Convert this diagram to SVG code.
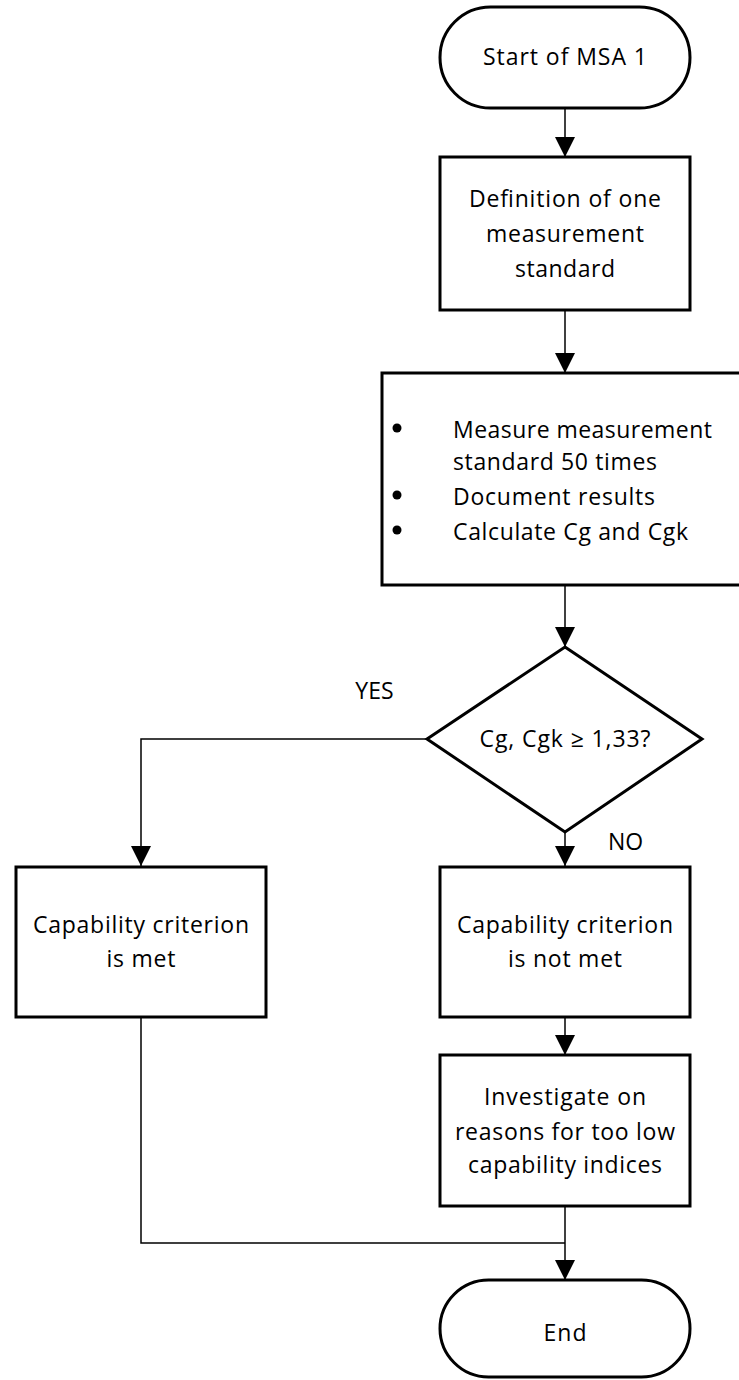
<svg xmlns="http://www.w3.org/2000/svg" width="739" height="1380" viewBox="0 0 739 1380">
<style>
  .shape { fill: #ffffff; stroke: #000000; stroke-width: 3; }
  .conn { fill: none; stroke: #000000; stroke-width: 1.5; }
  .t { font-family: "Open Sans", Lato, "Liberation Sans", sans-serif; font-size: 23px; fill: #000000; }
  .c { text-anchor: middle; }
</style>
<defs>
  <marker id="arrow" markerUnits="userSpaceOnUse" markerWidth="20" markerHeight="20" refX="20" refY="10" orient="auto">
    <path d="M0,0 L20,10 L0,20 Z" fill="#000000"/>
  </marker>
</defs>
<rect width="739" height="1380" fill="#ffffff"/>
<g id="connectors">
  <line class="conn" x1="565" y1="108" x2="565" y2="157" marker-end="url(#arrow)"/>
  <line class="conn" x1="565" y1="310" x2="565" y2="373" marker-end="url(#arrow)"/>
  <line class="conn" x1="565" y1="585" x2="565" y2="647" marker-end="url(#arrow)"/>
  <polyline class="conn" points="427,739 141,739 141,866" marker-end="url(#arrow)"/>
  <line class="conn" x1="565" y1="832" x2="565" y2="866" marker-end="url(#arrow)"/>
  <line class="conn" x1="565" y1="1017" x2="565" y2="1055" marker-end="url(#arrow)"/>
  <line class="conn" x1="565" y1="1206" x2="565" y2="1280" marker-end="url(#arrow)"/>
  <polyline class="conn" points="141,1017 141,1243 565,1243"/>
  <text class="t c" x="374.5" y="699">YES</text>
  <text class="t" x="608" y="850">NO</text>
</g>
<g id="start">
  <rect class="shape" x="440" y="7" width="250" height="101" rx="50.5" ry="50.5"/>
  <text class="t c" x="565" y="65" textLength="164" lengthAdjust="spacing">Start of MSA 1</text>
</g>
<g id="define">
  <rect class="shape" x="440" y="157" width="250" height="153"/>
  <text class="t c" x="565" y="207" textLength="192" lengthAdjust="spacing">Definition of one</text>
  <text class="t c" x="565" y="242" textLength="158" lengthAdjust="spacing">measurement</text>
  <text class="t c" x="565" y="277" textLength="100" lengthAdjust="spacing">standard</text>
</g>
<g id="measure">
  <rect class="shape" x="382" y="373" width="370" height="212"/>
  <circle cx="397" cy="428" r="4.5"/>
  <circle cx="397" cy="495" r="4.5"/>
  <circle cx="397" cy="530" r="4.5"/>
  <text class="t" x="453" y="438" textLength="259" lengthAdjust="spacing">Measure measurement</text>
  <text class="t" x="453" y="470" textLength="204" lengthAdjust="spacing">standard 50 times</text>
  <text class="t" x="453" y="505" textLength="202" lengthAdjust="spacing">Document results</text>
  <text class="t" x="453" y="540" textLength="235" lengthAdjust="spacing">Calculate Cg and Cgk</text>
</g>
<g id="decision">
  <polygon class="shape" points="565,647 702,739 565,832 427,739"/>
  <text class="t c" x="565" y="747" textLength="171" lengthAdjust="spacing">Cg, Cgk ≥ 1,33?</text>
</g>
<g id="met">
  <rect class="shape" x="16" y="867" width="250" height="150"/>
  <text class="t c" x="141" y="933" textLength="216" lengthAdjust="spacing">Capability criterion</text>
  <text class="t c" x="141" y="967" textLength="69" lengthAdjust="spacing">is met</text>
</g>
<g id="notmet">
  <rect class="shape" x="440" y="867" width="250" height="150"/>
  <text class="t c" x="565" y="933" textLength="216" lengthAdjust="spacing">Capability criterion</text>
  <text class="t c" x="565" y="967" textLength="114" lengthAdjust="spacing">is not met</text>
</g>
<g id="investigate">
  <rect class="shape" x="440" y="1055" width="250" height="151"/>
  <text class="t c" x="565" y="1105" textLength="162" lengthAdjust="spacing">Investigate on</text>
  <text class="t c" x="565" y="1140" textLength="220" lengthAdjust="spacing">reasons for too low</text>
  <text class="t c" x="565" y="1173" textLength="194" lengthAdjust="spacing">capability indices</text>
</g>
<g id="end">
  <rect class="shape" x="440" y="1280" width="250" height="97" rx="48.5" ry="48.5"/>
  <text class="t c" x="565" y="1341" textLength="43" lengthAdjust="spacing">End</text>
</g>
</svg>
